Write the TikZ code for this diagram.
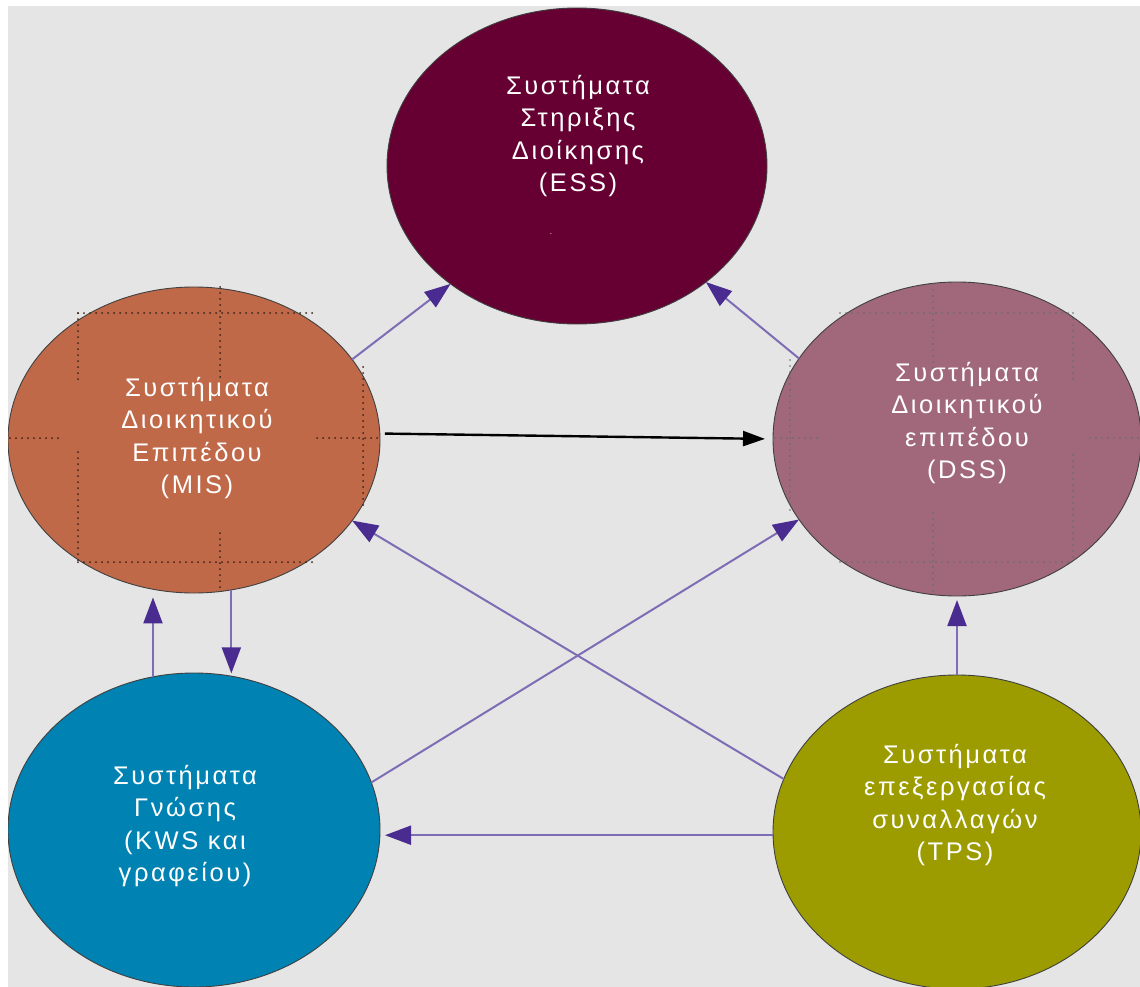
\documentclass[tikz,border=0pt]{standalone}
\usepackage{fontspec}
\setmainfont{Liberation Sans}
\newfontfamily\labfont[LetterSpace=10]{Liberation Sans}
\usetikzlibrary{arrows.meta,shapes.geometric}
\definecolor{bgcol}{HTML}{E5E5E5}
\definecolor{esscol}{HTML}{660033}
\definecolor{miscol}{HTML}{C06949}
\definecolor{dsscol}{HTML}{A1677B}
\definecolor{kwscol}{HTML}{0082B2}
\definecolor{tpscol}{HTML}{9C9C00}
\definecolor{linecol}{HTML}{7E6CB4}
\definecolor{headcol}{HTML}{4A2B90}
\definecolor{misdotcol}{HTML}{3A2418}
\definecolor{dssdotcol}{HTML}{5E6E60}
\tikzset{
  sysnode/.style={ellipse, draw=black!75, line width=0.9pt, inner sep=0pt, outer sep=0pt},
  lab/.style={text=white, font=\labfont\fontsize{25.5}{32.5}\selectfont, align=center, inner sep=0pt},
  flow/.style={draw=linecol, line width=2pt, -{Triangle[length=26pt,width=19pt,color=headcol]}},
  mainflow/.style={draw=black, line width=2.4pt, -{Triangle[length=22pt,width=15pt]}},
  misdots/.style={draw=misdotcol, line width=2pt, line cap=round, dash pattern=on 0pt off 6pt},
  dssdots/.style={draw=dssdotcol, line width=1.8pt, line cap=round, dash pattern=on 0pt off 6pt}
}
\begin{document}
\begin{tikzpicture}[x=1pt,y=-1pt]
\useasboundingbox (0,0) rectangle (1140,987);
\fill[white] (0,0) rectangle (1140,987);
\begin{scope}
\clip (8,6) rectangle (1140,987);
\fill[bgcol] (8,6) rectangle (1140,987);
\node[sysnode, fill=esscol, minimum width=380pt, minimum height=316pt] (ess) at (577,166) {};
\node[sysnode, fill=miscol, minimum width=372pt, minimum height=306pt] (mis) at (194,440) {};
\node[sysnode, fill=dsscol, minimum width=368pt, minimum height=314pt] (dss) at (957,439) {};
\node[sysnode, fill=kwscol, minimum width=372pt, minimum height=314pt] (kws) at (194,830) {};
\node[sysnode, fill=tpscol, minimum width=368pt, minimum height=314pt] (tps) at (957,832) {};
% dotted guide lines in MIS
\draw[misdots] (78,313) -- (317,313);
\draw[misdots] (78,562) -- (317,562);
\draw[misdots] (78,313) -- (78,380);
\draw[misdots] (78,452) -- (78,562);
\draw[misdots] (220,287) -- (220,380);
\draw[misdots] (220,533) -- (220,592);
\draw[misdots] (10,438) -- (60,438);
\draw[misdots] (317,438) -- (378,438);
\draw[misdots] (363,367) -- (363,507);
% dotted guide lines in DSS
\draw[dssdots] (840,313) -- (1073,313);
\draw[dssdots] (840,562) -- (1073,562);
\draw[dssdots] (1073,313) -- (1073,380);
\draw[dssdots] (1073,455) -- (1073,562);
\draw[dssdots] (933,284) -- (933,380);
\draw[dssdots] (933,513) -- (933,595);
\draw[dssdots] (775,438) -- (822,438);
\draw[dssdots] (1090,438) -- (1140,438);
\draw[dssdots] (790,360) -- (790,510);
\end{scope}
% labels
\node[lab] (esst) at (578,136) {Συστήματα\\ Στηριξης\\Διοίκησης\\(ESS)};
\node[text=white, font=\fontsize{8}{8}\selectfont, inner sep=0pt] (essdot) at (551,234) {.};
\node[lab] (mist) at (197,438) {Συστήματα\\Διοικητικού\\Επιπέδου\\(MIS)};
\node[lab] (dsst) at (967,423) {Συστήματα\\Διοικητικού\\επιπέδου\\(DSS)};
\node[lab] (kwst) at (185,826) {Συστήματα\\Γνώσης\\(KWS και\\γραφείου)};
\node[lab] (tpst) at (955,805) {Συστήματα\\επεξεργασίας\\συναλλαγών\\(TPS)};
% connectors
\draw[flow] (mis.27) -- (ess.223);
\draw[flow] (dss.153) -- (ess.318);
\draw[mainflow, shorten <=5pt, shorten >=8pt] (mis.2) -- (dss.180);
\draw[flow, shorten >=8pt] (kws.105) -- (kws.105 |- mis.255);
\draw[flow, shorten >=3pt] (mis.284) -- (mis.284 |- kws.76);
\draw[flow, shorten >=4pt] (tps.north) -- (dss.south);
\draw[flow, shorten >=5pt] (tps.181) -- (tps.181 -| kws.east);
\draw[flow] (tps.163) -- (mis.333);
\draw[flow] (kws.15) -- (dss.207);
\end{tikzpicture}
\end{document}
